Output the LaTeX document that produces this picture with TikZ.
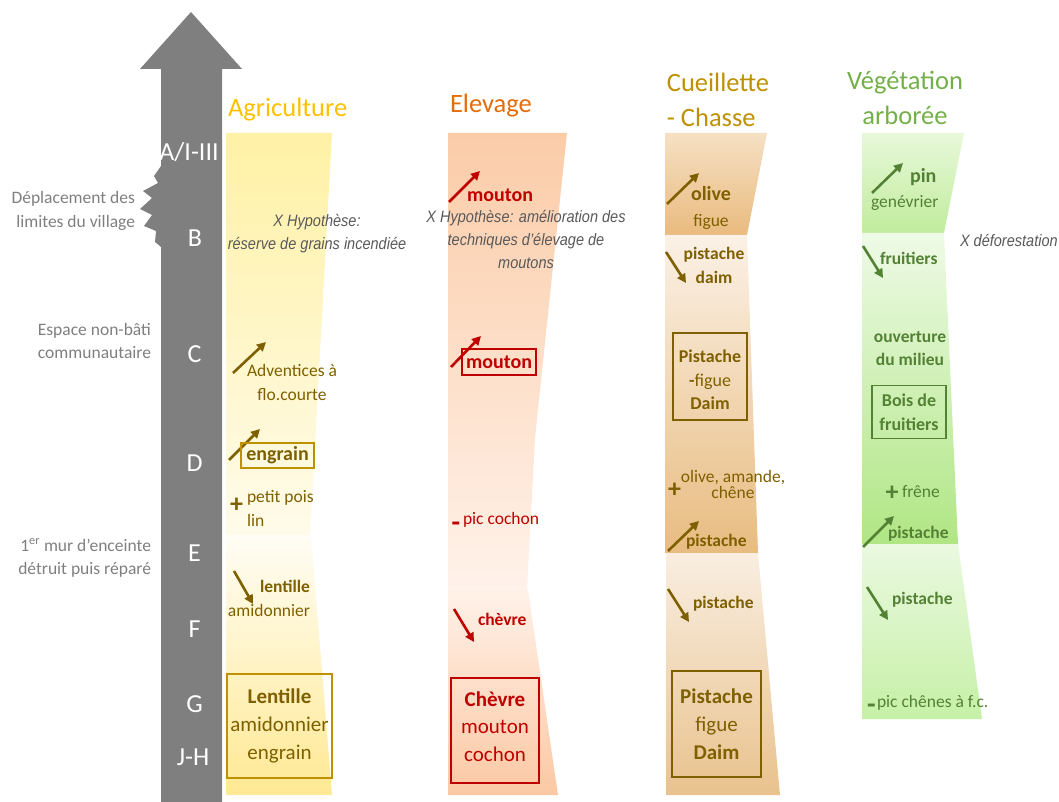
\documentclass[tikz,border=0pt]{standalone}
\usepackage{fontspec}
\setmainfont{Carlito}
\newfontfamily\hypfont[FakeStretch=0.88]{Liberation Sans}
\usetikzlibrary{arrows.meta}
\definecolor{axisgray}{HTML}{7F7F7F}
\definecolor{labgray}{HTML}{7F7F7F}
\definecolor{hypgray}{HTML}{595959}
\definecolor{agtitle}{HTML}{FFC000}
\definecolor{agframe}{HTML}{BF9000}
\definecolor{olivec}{HTML}{7F6000}
\definecolor{eltitle}{HTML}{E46C0A}
\definecolor{redc}{HTML}{C00000}
\definecolor{cutitle}{HTML}{BF9000}
\definecolor{vegtitle}{HTML}{74B049}
\definecolor{greenc}{HTML}{548235}
\newcommand{\fs}[2]{\fontsize{#1}{#2}\selectfont}
\begin{document}
\begin{tikzpicture}[x=1pt,y=-1pt,
  every node/.style={inner sep=0pt, outer sep=0pt},
  side/.style={text=labgray, align=right, anchor=east, font=\fs{17.5}{23.5}},
  period/.style={text=white, font=\fs{26}{30}},
  ttl/.style={font=\fs{26.5}{35.5}},
  hyp/.style={text=hypgray, align=center, font=\hypfont\itshape\fs{16.5}{23}},
  body/.style={font=\fs{17.5}{23.5}},
  boldtxt/.style={font=\bfseries\fs{17.5}{20}},
  bigbold/.style={font=\bfseries\fs{20}{20}},
  sign/.style={font=\bfseries\fs{26}{26}},
  minussign/.style={font=\bfseries\fs{28}{28}},
  trend/.style={line width=2.6pt, -{Triangle[length=9pt,width=9pt]}},
  framed/.style={draw, line width=1.1pt},
]
\useasboundingbox (0,0) rectangle (1059,802);

% ---- column backgrounds ----
% Agriculture
\shade[top color={rgb,255:red,255;green,241;blue,165}, middle color={rgb,255:red,255;green,234;blue,144}, bottom color={rgb,255:red,255;green,251;blue,234}]
  (226,133) -- (332,133) -- (310,535) -- (226,535) -- cycle;
\shade[top color={rgb,255:red,255;green,253;blue,245}, bottom color={rgb,255:red,255;green,233;blue,148}]
  (226,535) -- (311,535) -- (332,795) -- (226,795) -- cycle;
% Elevage
\shade[top color={rgb,255:red,251;green,204;blue,168}, middle color={rgb,255:red,252;green,213;blue,185}, bottom color={rgb,255:red,255;green,242;blue,234}]
  (448,133) -- (567,133) -- (535,438) -- (527,590) -- (448,590) -- cycle;
\shade[top color={rgb,255:red,255;green,241;blue,232}, bottom color={rgb,255:red,251;green,200;blue,163}]
  (448,590) -- (528,590) -- (558,795) -- (448,795) -- cycle;
% Cueillette
\shade[top color={rgb,255:red,246;green,224;blue,196}, bottom color={rgb,255:red,233;green,187;blue,126}]
  (665,133) -- (767,133) -- (747,235) -- (665,235) -- cycle;
\shade[top color={rgb,255:red,251;green,241;blue,230}, bottom color={rgb,255:red,232;green,188;blue,128}]
  (665,235) -- (747,235) -- (758,553) -- (665,553) -- cycle;
\shade[top color={rgb,255:red,249;green,238;blue,225}, bottom color={rgb,255:red,233;green,194;blue,141}]
  (666,553) -- (758,553) -- (780,795) -- (666,795) -- cycle;
% Vegetation
\shade[top color={rgb,255:red,232;green,248;blue,218}, bottom color={rgb,255:red,192;green,236;blue,156}]
  (862,133) -- (964,133) -- (944,233) -- (862,233) -- cycle;
\shade[top color={rgb,255:red,238;green,250;blue,230}, bottom color={rgb,255:red,176;green,230;blue,132}]
  (862,233) -- (944,233) -- (958,544) -- (862,544) -- cycle;
\shade[top color={rgb,255:red,234;green,249;blue,224}, bottom color={rgb,255:red,198;green,240;blue,166}]
  (862,544) -- (958,544) -- (982,719) -- (862,719) -- cycle;

% ---- time axis ----
\fill[axisgray] (161,802) -- (161,69) -- (140,69) -- (191,12) -- (242,69) -- (222,69) -- (222,802) -- cycle;
\fill[axisgray] (161,166) -- (154,176) -- (158,183) -- (143,191) -- (152,198) -- (140,209)
  -- (152,215) -- (144,226) -- (156,231) -- (155,242) -- (161,247) -- cycle;

\node[period] (pA) at (189,152) {A/I-III};
\node[period] (pB) at (195,238) {B};
\node[period] (pC) at (194.5,354) {C};
\node[period] (pD) at (194.5,463) {D};
\node[period] (pE) at (194.5,553) {E};
\node[period] (pF) at (194.5,629) {F};
\node[period] (pG) at (194.5,704) {G};
\node[period] (pJH) at (193,757) {J-H};

% ---- side labels ----
\node[side] (sdep) at (135,211) {Déplacement des\\limites du village};
\node[side] (sesp) at (151,341) {Espace non-bâti\\communautaire};
\node[side] (smur) at (151,558) {1\textsuperscript{er} mur d’enceinte\\détruit puis réparé};

% ---- titles ----
\node[ttl, text=agtitle, anchor=base west] (tAg) at (228,117) {Agriculture};
\node[ttl, text=eltitle, anchor=base west] (tEl) at (450,113) {Elevage};
\node[ttl, text=cutitle, align=left] (tCu) at (718,100) {Cueillette\\- Chasse};
\node[ttl, text=vegtitle, align=center] (tVe) at (905,98) {Végétation\\arborée};

% ---- hypotheses ----
\node[hyp] (hAg) at (317,233.5) {X Hypothèse:\\réserve de grains incendiée};
\node[hyp] (hEl) at (526,240) {X Hypothèse: amélioration des\\techniques d’élevage de\\moutons};
\node[hyp, anchor=west] (hVe) at (960,241) {X déforestation};

% ---- Agriculture ----
\coordinate (ag1s) at (233,373); \coordinate (ag1e) at (266,342);
\draw[trend, olivec] (ag1s) -- (ag1e);
\node[body, text=olivec, align=center] (adv) at (292,382.5) {Adventices à\\flo.courte};
\coordinate (ag2s) at (229,460); \coordinate (ag2e) at (260,429);
\draw[trend, olivec] (ag2s) -- (ag2e);
\node[framed, draw=agframe, text=olivec, bigbold, minimum width=73pt, minimum height=25pt] (engr) at (277.5,455.5) {engrain};
\node[sign, text=olivec] (plusAg) at (236.5,505) {+};
\node[body, text=olivec, align=left, anchor=west] (pois) at (247,508.5) {petit pois\\lin};
\coordinate (ag3s) at (234,571); \coordinate (ag3e) at (253,604);
\draw[trend, olivec] (ag3s) -- (ag3e);
\node[text=olivec, align=right, anchor=east, font=\fs{17.5}{24}] (lent) at (310,598) {\textbf{lentille}\\amidonnier};
\node[framed, draw=agframe, text=olivec, align=center, font=\fs{21}{28}, minimum width=105pt, minimum height=104pt] (agbx) at (279.5,726) {\textbf{Lentille}\\amidonnier\\engrain};

% ---- Elevage ----
\coordinate (el1s) at (449,202); \coordinate (el1e) at (480,171);
\draw[trend, redc] (el1s) -- (el1e);
\node[bigbold, text=redc, anchor=west] (mout1) at (467,195) {mouton};
\coordinate (el2s) at (451,367); \coordinate (el2e) at (481,336);
\draw[trend, redc] (el2s) -- (el2e);
\node[framed, draw=redc, text=redc, bigbold, minimum width=74pt, minimum height=26pt] (mout2) at (499,362) {mouton};
\node[minussign, text=redc] (minEl) at (456,527) {-};
\node[body, text=redc, anchor=west] (pic1) at (463,520) {pic cochon};
\coordinate (el3s) at (454,609); \coordinate (el3e) at (474,642);
\draw[trend, redc] (el3s) -- (el3e);
\node[boldtxt, text=redc, anchor=west] (chev) at (478,619) {chèvre};
\node[framed, draw=redc, text=redc, align=center, font=\fs{21}{27.5}, text depth=8pt, minimum width=88pt, minimum height=105pt] (elbx) at (495,730.5) {\textbf{Chèvre}\\mouton\\cochon};

% ---- Cueillette - Chasse ----
\coordinate (cu1s) at (667,204); \coordinate (cu1e) at (699,173);
\draw[trend, olivec] (cu1s) -- (cu1e);
\node[text=olivec, align=center, font=\fs{17.5}{26}] (oliv) at (711,208) {{\bfseries\fs{20}{26}olive}\\figue};
\coordinate (cu2s) at (666,252); \coordinate (cu2e) at (686,283);
\draw[trend, olivec] (cu2s) -- (cu2e);
\node[text=olivec, align=center, font=\bfseries\fs{17.5}{24}] (pist1) at (714,265) {pistache\\daim};
\node[framed, draw=olivec, text=olivec, align=center, font=\fs{18}{23.5}, text height=66.5pt, minimum width=74pt, minimum height=87pt] (cubx1) at (710,376.5) {\textbf{Pistache}\\\textbf{-}figue\\\textbf{Daim}};
\node[sign, text=olivec] (plusCu) at (674.5,490) {+};
\node[text=olivec, align=center, font=\fs{17.5}{13}] (olam) at (733,484.5) {olive, amande,\\chêne};
\coordinate (cu3s) at (668,551); \coordinate (cu3e) at (699,521);
\draw[trend, olivec] (cu3s) -- (cu3e);
\node[boldtxt, text=olivec, anchor=west] (pist2) at (686,542) {pistache};
\coordinate (cu4s) at (668,589); \coordinate (cu4e) at (689,622);
\draw[trend, olivec] (cu4s) -- (cu4e);
\node[boldtxt, text=olivec, anchor=west] (pist3) at (693,604) {pistache};
\node[framed, draw=olivec, text=olivec, align=center, font=\fs{21}{28}, minimum width=89pt, minimum height=106pt] (cubx2) at (716.5,724) {\textbf{Pistache}\\figue\\\textbf{Daim}};

% ---- Vegetation arboree ----
\coordinate (ve1s) at (872,193); \coordinate (ve1e) at (903,163);
\draw[trend, greenc] (ve1s) -- (ve1e);
\node[bigbold, text=greenc, anchor=west] (pin) at (910,177) {pin};
\node[body, text=greenc, anchor=west] (gene) at (871,203) {genévrier};
\coordinate (ve2s) at (863,246); \coordinate (ve2e) at (883,278);
\draw[trend, greenc] (ve2s) -- (ve2e);
\node[boldtxt, text=greenc, anchor=west] (frui) at (880,258) {fruitiers};
\node[text=greenc, align=center, font=\bfseries\fs{17.5}{23}] (ouv) at (910,349) {ouverture\\du milieu};
\node[framed, draw=greenc, text=greenc, align=center, font=\bfseries\fs{18}{24}, minimum width=74pt, minimum height=53pt] (vebx) at (909,412) {Bois de\\fruitiers};
\node[sign, text=greenc] (plusVe) at (892,493) {+};
\node[body, text=greenc, anchor=west] (fren) at (902,492) {frêne};
\coordinate (ve3s) at (863,547); \coordinate (ve3e) at (894,516);
\draw[trend, greenc] (ve3s) -- (ve3e);
\node[boldtxt, text=greenc, anchor=west] (pist4) at (888,534) {pistache};
\coordinate (ve4s) at (867,587); \coordinate (ve4e) at (888,620);
\draw[trend, greenc] (ve4s) -- (ve4e);
\node[boldtxt, text=greenc, anchor=west] (pist5) at (892,600) {pistache};
\node[minussign, text=greenc] (minVe) at (871.5,709) {-};
\node[body, text=greenc, anchor=west] (pic2) at (877,703) {pic chênes à f.c.};
\end{tikzpicture}
\end{document}
